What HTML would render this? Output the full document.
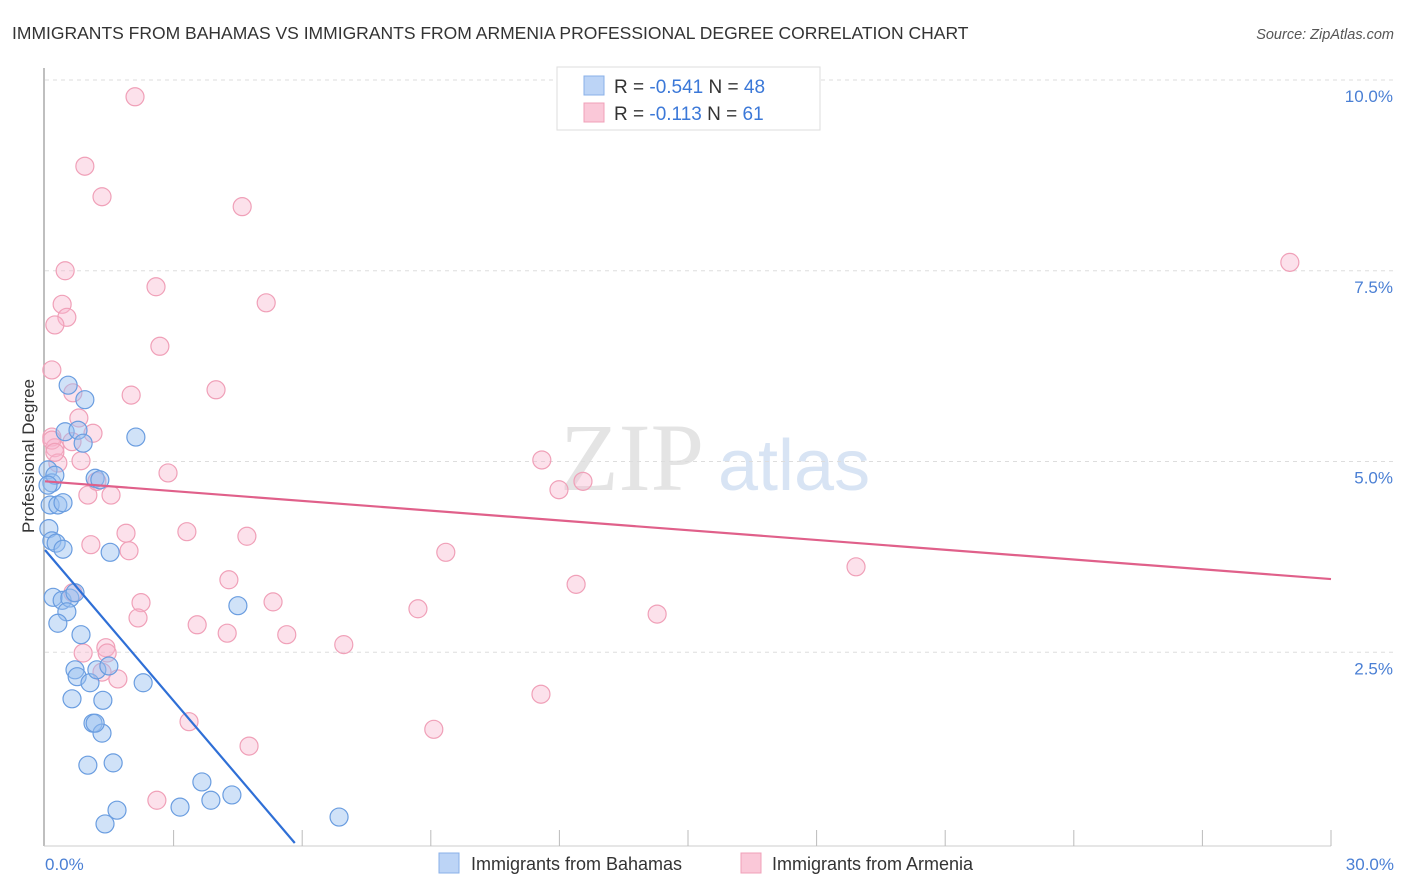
<!DOCTYPE html>
<html><head><meta charset="utf-8"><style>
body{margin:0;background:#fff;font-family:"Liberation Sans",sans-serif;}
svg{display:block}
</style></head><body>
<svg id="chart" width="1406" height="892">
<text x="12" y="39" font-size="17.5" fill="#333">IMMIGRANTS FROM BAHAMAS VS IMMIGRANTS FROM ARMENIA PROFESSIONAL DEGREE CORRELATION CHART</text>
<text x="1394" y="39" font-size="14.5" fill="#555" font-style="italic" text-anchor="end">Source: ZipAtlas.com</text>
<text x="560" y="490" font-size="96" fill="#e4e4e4" font-family="Liberation Serif,serif">ZIP</text>
<text x="718" y="490" font-size="72" fill="#d8e4f4">atlas</text>
<g id="grid"></g>
<line x1="44" y1="68" x2="44" y2="846" stroke="#aaa" stroke-width="1.5"/>
<line x1="44" y1="846" x2="1331" y2="846" stroke="#ccc"/>
<g id="xticks"></g>
<text transform="translate(34,456) rotate(-90)" font-size="17" fill="#333" text-anchor="middle">Professional Degree</text>
<text x="45" y="870" font-size="17" fill="#4a7fd4">0.0%</text>
<text x="1394" y="870" font-size="17" fill="#4a7fd4" text-anchor="end">30.0%</text>
<g id="pink"></g><g id="blue"></g><g id="lines"></g>
<g>
<rect x="557" y="67" width="263" height="63" fill="#fff" stroke="#ddd"/>
<rect x="584" y="76" width="20" height="19" fill="#bcd4f6" stroke="#8ab0e8"/>
<rect x="584" y="103" width="20" height="19" fill="#fac8d8" stroke="#f0a0b8"/>
<text x="614" y="93" font-size="19" fill="#333">R = <tspan fill="#3b78d8">-0.541</tspan>   N = <tspan fill="#3b78d8">48</tspan></text>
<text x="614" y="120" font-size="19" fill="#333">R =  <tspan fill="#3b78d8">-0.113</tspan>   N =  <tspan fill="#3b78d8">61</tspan></text>
</g>
<g>
<rect x="439" y="853" width="20" height="20" fill="#bcd4f6" stroke="#8ab0e8"/>
<text x="471" y="870" font-size="18" fill="#333">Immigrants from Bahamas</text>
<rect x="741" y="853" width="20" height="20" fill="#fac8d8" stroke="#f0a0b8"/>
<text x="772" y="870" font-size="18" fill="#333">Immigrants from Armenia</text>
</g>
</svg>
<script>
const yTicks=[2.5,5.0,7.5,10.0];
const xTicks=[3,6,9,12,15,18,21,24,27,30];
const blueX=[0.07,0.16,0.12,0.30,0.42,0.09,0.16,0.26,0.42,0.54,0.93,0.47,0.77,0.89,0.23,1.17,1.28,1.52,2.12,0.19,0.40,0.58,0.70,0.51,0.30,0.84,0.70,0.75,1.05,1.21,1.49,0.63,1.35,2.29,1.12,1.33,1.00,1.59,3.66,3.87,4.36,3.15,1.68,1.40,4.50,6.86,0.07,1.17];
const blueY=[4.89,4.72,4.43,4.43,4.46,4.12,3.96,3.93,3.85,6.00,5.81,5.39,5.41,5.24,4.82,4.78,4.76,3.81,5.32,3.22,3.18,3.21,3.28,3.03,2.88,2.73,2.27,2.18,2.10,2.27,2.32,1.89,1.87,2.10,1.57,1.44,1.02,1.05,0.80,0.56,0.63,0.47,0.43,0.25,3.11,0.34,4.69,1.57];
const pinkX=[2.10,0.93,1.33,4.60,0.47,2.59,0.40,0.51,0.23,2.68,5.16,29.04,0.16,0.65,2.01,3.99,0.79,1.12,0.63,0.16,0.23,0.30,0.84,1.00,1.54,2.87,1.89,1.96,1.07,3.31,4.71,4.29,5.32,2.24,2.17,3.55,4.25,5.64,0.65,0.89,1.42,1.45,1.33,1.70,3.36,4.76,2.61,11.59,11.99,12.55,9.35,12.39,8.70,14.28,18.92,6.97,11.57,9.07,0.16,0.23,1.21];
const pinkY=[9.78,8.87,8.47,8.34,7.50,7.29,7.06,6.89,6.79,6.51,7.08,7.61,6.20,5.90,5.87,5.94,5.57,5.37,5.26,5.32,5.18,4.98,5.01,4.56,4.56,4.85,4.06,3.83,3.91,4.08,4.02,3.45,3.16,3.15,2.95,2.86,2.75,2.73,3.28,2.49,2.56,2.49,2.24,2.15,1.59,1.27,0.56,5.02,4.63,4.74,3.81,3.39,3.07,3.00,3.62,2.60,1.95,1.49,5.28,5.12,4.74];
const blueTrend=[3.84,-0.659];
const pinkTrend=[4.74,-0.0427];
const NS="http://www.w3.org/2000/svg";
const sx=v=>45+v/30*1286;
const sy=v=>843-v/10*763;
function mk(tag,parent,attrs){const e=document.createElementNS(NS,tag);for(const k in attrs)e.setAttribute(k,attrs[k]);document.getElementById(parent).appendChild(e);return e;}
yTicks.forEach(t=>{
 const l=mk('line','grid',{x1:45,x2:1394,y1:sy(t),y2:sy(t),stroke:'#ddd','stroke-dasharray':'4,4'});
 
 
 const tx=mk('text','grid',{x:1393,y:sy(t)+22,'font-size':17,fill:'#4a7fd4','text-anchor':'end'});
 tx.textContent=t.toFixed(1)+'%';
 
 
});
mk('line','grid',{x1:45,x2:1394,y1:sy(10),y2:sy(10),stroke:'#ddd','stroke-dasharray':'4,4'});
xTicks.forEach(t=>{
 const l=mk('line','xticks',{x1:sx(t),x2:sx(t),y1:830,y2:846,stroke:'#bbb'});
 
 
});
pinkX.forEach((x,i)=>{
 const c=mk('circle','pink',{cx:sx(x),cy:sy(pinkY[i]),r:9,fill:'rgba(248,180,204,0.4)',stroke:'#f0a0b8','stroke-width':1.2});
 
 
});
blueX.forEach((x,i)=>{
 const c=mk('circle','blue',{cx:sx(x),cy:sy(blueY[i]),r:9,fill:'rgba(150,190,240,0.45)',stroke:'#6a9de0','stroke-width':1.2});
 
 
});
const bx2=-blueTrend[0]/blueTrend[1];
const bl=mk('line','lines',{x1:sx(0),y1:sy(blueTrend[0]),x2:sx(bx2),y2:sy(0),stroke:'#2f6fd6','stroke-width':2.2});


const pl=mk('line','lines',{x1:sx(0),y1:sy(pinkTrend[0]),x2:sx(30),y2:sy(pinkTrend[0]+pinkTrend[1]*30),stroke:'#e0608a','stroke-width':2.2});


</script>
</body></html>
